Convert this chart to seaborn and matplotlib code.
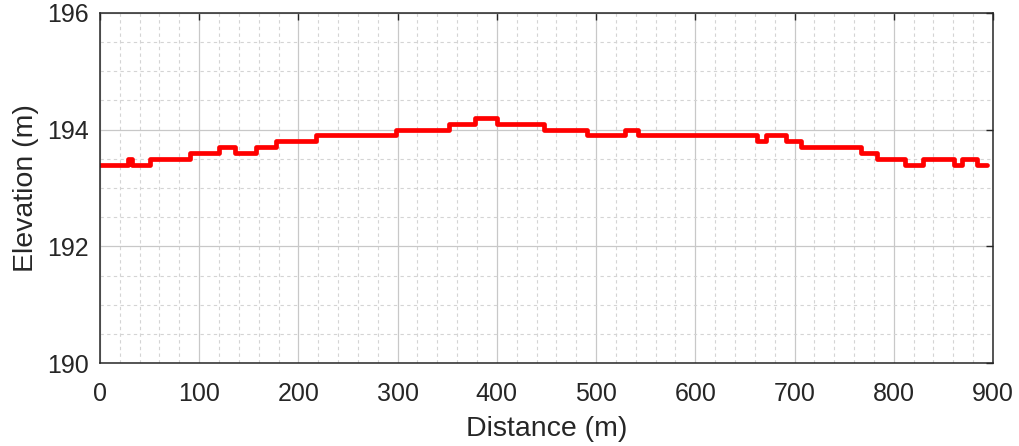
import matplotlib
matplotlib.use('Agg')
import matplotlib.pyplot as plt
from matplotlib.ticker import MultipleLocator
import pandas as pd
import seaborn as sns

# Elevation profile (step changes)
distance = [0, 28, 32, 50, 91, 120, 136, 157, 177, 218, 298, 352, 378, 400, 448,
            491, 529, 542, 662, 671, 691, 707, 767, 783, 811, 829, 861, 869, 884, 894]
elevation = [193.4, 193.5, 193.4, 193.5, 193.6, 193.7, 193.6, 193.7, 193.8, 193.9,
             194.0, 194.1, 194.2, 194.1, 194.0, 193.9, 194.0, 193.9, 193.8, 193.9,
             193.8, 193.7, 193.6, 193.5, 193.4, 193.5, 193.4, 193.5, 193.4, 193.4]

df = pd.DataFrame({'Distance': distance, 'Elevation': elevation})

sns.set_style('white')
plt.rcParams['font.family'] = ['Liberation Sans', 'DejaVu Sans']

fig = plt.figure(figsize=(10.2, 4.46), dpi=100)
ax = fig.add_axes([0.098, 0.186, 0.8755, 0.785])

sns.lineplot(x='Distance', y='Elevation', data=df, color='red', linewidth=3.4,
             drawstyle='steps-post', ax=ax, estimator=None, sort=False)

ax.set_xlim(0, 900)
ax.set_ylim(190, 196)
ax.xaxis.set_major_locator(MultipleLocator(100))
ax.xaxis.set_minor_locator(MultipleLocator(20))
ax.yaxis.set_major_locator(MultipleLocator(2))
ax.yaxis.set_minor_locator(MultipleLocator(0.5))

ax.grid(which='major', color='#c8c8c8', linewidth=0.9, linestyle='-')
ax.grid(which='minor', color='#d4d4d4', linewidth=0.8, linestyle=(0, (3, 3)))
ax.set_axisbelow(True)

ax.tick_params(which='major', direction='in', length=5, width=1, colors='#262626',
               labelsize=18, top=True, right=True)
ax.tick_params(axis='x', which='major', pad=14)
ax.tick_params(axis='y', which='major', pad=8)
ax.tick_params(which='minor', length=0)
for s in ax.spines.values():
    s.set_color('#262626')
    s.set_linewidth(1.1)

ax.set_xlabel('Distance (m)', fontsize=20.5, color='#262626', labelpad=7)
ax.set_ylabel('Elevation (m)', fontsize=20.5, color='#262626', labelpad=6)

fig.savefig('out.png', dpi=100)
